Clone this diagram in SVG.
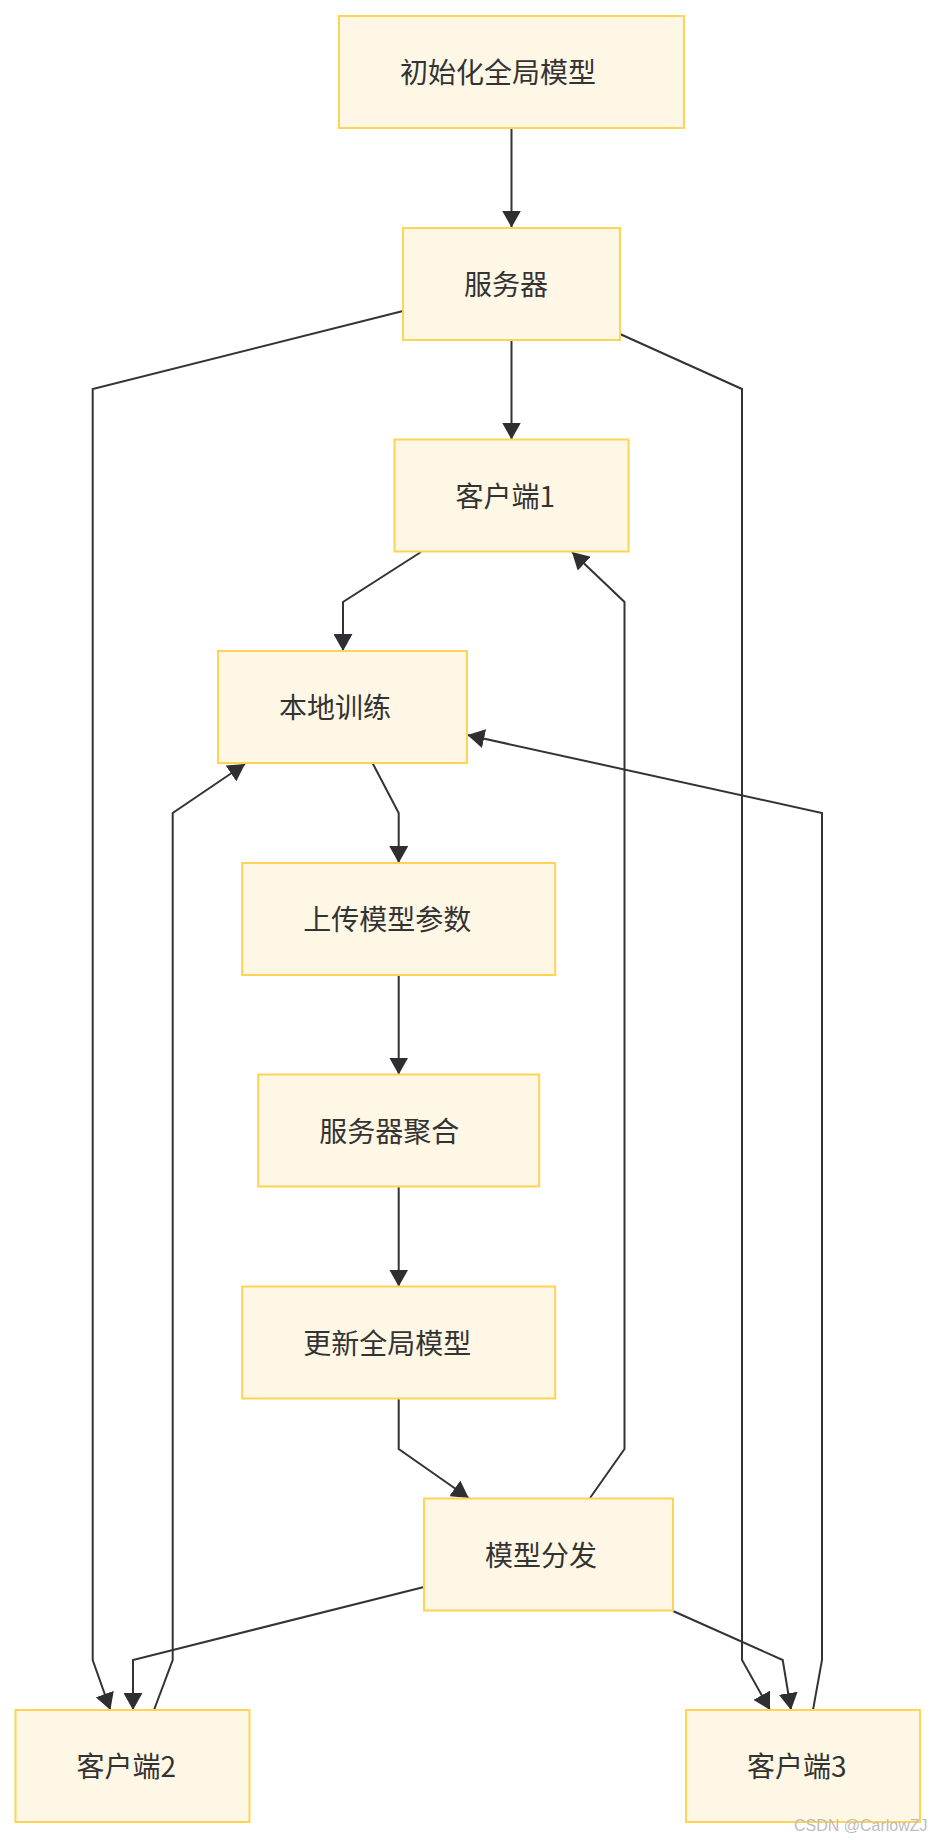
<svg xmlns="http://www.w3.org/2000/svg" width="934" height="1840" viewBox="0 0 934 1840">
<style>
.node rect{fill:#fff7e6;stroke:#ffd353;stroke-width:2}
.node text{font-family:"Noto Sans CJK SC","Noto Sans",sans-serif;font-size:28px;fill:#333}
.edges path{fill:none;stroke:#333;stroke-width:2;marker-end:url(#arrow)}
.wm{font-family:"Liberation Sans",Arial,sans-serif;font-size:16px;fill:#bdbdbd}
</style>
<defs>
<marker id="arrow" viewBox="0 0 16 18" refX="16" refY="9" markerUnits="userSpaceOnUse" markerWidth="17" markerHeight="19" orient="auto">
<path d="M0,0 L16,9 L0,18 z" fill="#2f2f33"/>
</marker>
</defs>
<rect width="934" height="1840" fill="#fff"/>
<g class="edges">
<path d="M511.5,128 L511.5,227.5"/>
<path d="M511.5,340 L511.5,439.5"/>
<path d="M403,311 L92.7,389 L92.7,1660 L110.4,1710"/>
<path d="M620,334 L742,389 L742,1660 L770,1710"/>
<path d="M421,552 L343,602 L343,651"/>
<path d="M372.5,763 L398.7,813 L398.7,863"/>
<path d="M398.7,975 L398.7,1074.5"/>
<path d="M398.7,1187 L398.7,1286.5"/>
<path d="M398.7,1398.5 L398.7,1449 L468.7,1498"/>
<path d="M590,1498 L624.5,1449 L624.5,602 L572,552"/>
<path d="M424,1587 L133,1660 L133,1710"/>
<path d="M673,1611 L782.7,1660 L791,1710"/>
<path d="M154,1710 L172.7,1660 L172.7,813 L245,764"/>
<path d="M813,1710 L822,1660 L822,813 L467.5,735"/>
</g>
<g id="n1" class="node"><rect x="339" y="16" width="345" height="112"/><text x="400" y="83">初始化全局模型</text></g>
<g id="n2" class="node"><rect x="403" y="228" width="217" height="112"/><text x="464" y="295">服务器</text></g>
<g id="n3" class="node"><rect x="394.5" y="439.5" width="234" height="112"/><text x="455.5" y="506.5">客户端1</text></g>
<g id="n4" class="node"><rect x="218" y="651" width="249" height="112"/><text x="279" y="718">本地训练</text></g>
<g id="n5" class="node"><rect x="242.2" y="863" width="313" height="112"/><text x="303.2" y="930">上传模型参数</text></g>
<g id="n6" class="node"><rect x="258.2" y="1074.5" width="281" height="112"/><text x="319.2" y="1141.5">服务器聚合</text></g>
<g id="n7" class="node"><rect x="242.2" y="1286.5" width="313" height="112"/><text x="303.2" y="1353.5">更新全局模型</text></g>
<g id="n8" class="node"><rect x="424" y="1498.5" width="249" height="112"/><text x="485" y="1565.5">模型分发</text></g>
<g id="n9" class="node"><rect x="15.5" y="1710" width="234" height="112"/><text x="76.5" y="1777">客户端2</text></g>
<g id="n10" class="node"><rect x="686" y="1710" width="234" height="112"/><text x="747" y="1777">客户端3</text></g>
<text class="wm" x="794" y="1831">CSDN @CarlowZJ</text>
</svg>
